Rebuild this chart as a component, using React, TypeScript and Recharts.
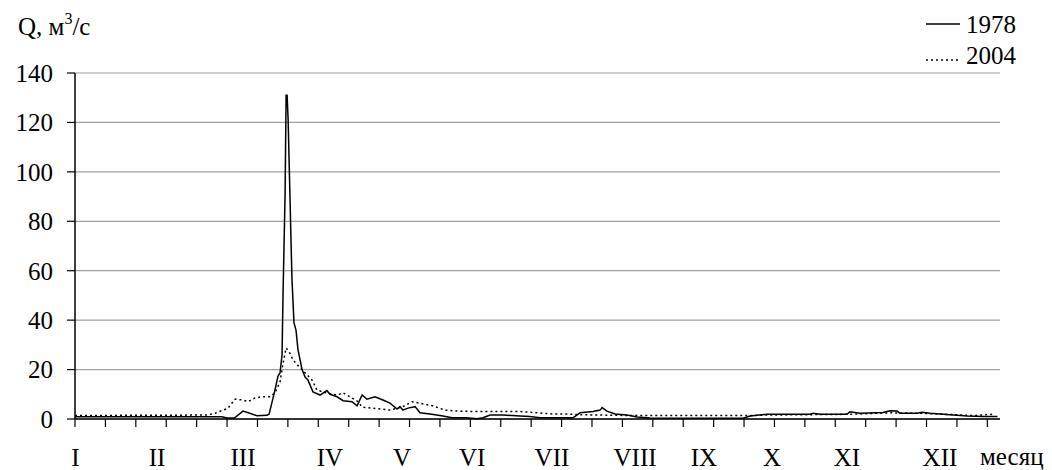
import { LineChart, Line, XAxis, YAxis, CartesianGrid } from 'recharts'

// day of year (0..365) and discharge, m3/s
const days1978 = [0, 30, 58, 60, 63, 66.3, 69, 71.8, 75.8, 76.6, 78.9, 80.1, 80.9, 81.7, 82.1, 82.9, 83.3, 83.7, 84.1, 84.8, 85.6, 86.4, 87.2, 88, 89.6, 90.8, 91.9, 93.9, 96.7, 99.4, 100.6, 103.4, 105.8, 109.3, 111.3, 113.3, 115.2, 118.4, 121.5, 124.3, 127.1, 128.2, 129.4, 131.4, 134.2, 136.1, 140.1, 145.2, 148.8, 154.7, 158.6, 161, 163.8, 168.9, 175.6, 179.5, 183.5, 196.5, 199.3, 204.4, 207.2, 208, 209.9, 213.1, 217.8, 221.8, 226.9, 263.6, 266.4, 273.1, 290, 291.2, 294, 304.6, 305.8, 309.8, 318.8, 321.6, 324.4, 325.5, 332.3, 334.2, 337.4, 345.3, 352, 358.3, 364]
const q1978 = [0.9, 0.9, 0.9, 0.4, 0.5, 3.2, 2.3, 1.3, 1.5, 2, 11.7, 17.4, 18.6, 26, 51, 91, 131, 131, 121, 91, 57, 39, 36, 28, 20, 17, 15.8, 11, 9.7, 11.5, 10, 9, 7.4, 7, 5.3, 9.7, 8, 9, 7.7, 6.4, 4, 5, 3.6, 4.4, 5, 2.5, 2, 1.2, 0.5, 0.5, 0.1, 0.5, 1.6, 1.6, 1.2, 1, 0.5, 0.5, 2.5, 3, 3.6, 4.6, 3.2, 2, 1.6, 0.8, 0.4, 0.3, 1.2, 1.9, 1.9, 2.3, 1.9, 1.9, 2.9, 2.3, 2.6, 3.3, 3.2, 2.3, 2.3, 2.7, 2.3, 1.7, 1.2, 1, 1]

const days2004 = [0, 52, 55.2, 60.4, 63.1, 66.3, 68.3, 71, 73.8, 76.9, 78.9, 80.9, 82.1, 83.3, 84.8, 86, 87.6, 89.6, 93.5, 95.5, 99.4, 103.4, 105.8, 108.5, 111.7, 113.3, 117.6, 124.3, 129.4, 133, 136.1, 141.3, 146, 150.7, 158.6, 175.6, 182.3, 188.6, 194.1, 200.5, 220.2, 266.4, 273, 305.8, 321.6, 334.6, 354.4, 363]
const q2004 = [1.4, 1.6, 2.3, 4.4, 8, 7.7, 7, 8.5, 9, 9, 10.5, 15, 22.6, 28.7, 26.6, 24, 22, 20, 15.8, 11.7, 10.5, 9.7, 10.6, 9, 7, 4.8, 4.4, 3.6, 5, 7, 6.4, 5.3, 3.6, 3.2, 3, 3, 2.5, 2, 2, 1.7, 1.4, 1.4, 1.6, 1.9, 2.5, 2.3, 1.4, 2]

const yTicks = [0, 20, 40, 60, 80, 100, 120, 140]
const dayTicks = Array.from({ length: 31 }, (_, i) => i * 12)
const monthLabels = ['I', 'II', 'III', 'IV', 'V', 'VI', 'VII', 'VIII', 'IX', 'X', 'XI', 'XII']
const monthDays = [0.2, 32.4, 66.3, 100.6, 129, 156.7, 188.2, 221, 248.2, 275, 304.6, 341.3]

// both x axes share the same domain; the 2004 line sits on the month axis so it gets drawn
const series = [
  { name: '1978', days: days1978, q: q1978, dash: undefined as string | undefined, axis: 'd' },
  { name: '2004', days: days2004, q: q2004, dash: '2 3', axis: 'm' },
]

const FONT = 'Liberation Serif, Times New Roman, serif'
const FS = 25

const EmptyTick = () => <g />

function MonthTick(props: any) {
  const { x, y, payload } = props
  const i = monthDays.indexOf(payload.value)
  return (
    <text x={x} y={y + 27} textAnchor="middle" fontFamily={FONT} fontSize={FS} fill="#000">
      {monthLabels[i]}
    </text>
  )
}

export default function App() {
  const rows = series.map(s => s.days.map((d, i) => ({ day: d, q: s.q[i] })))

  return (
    <div style={{ position: 'absolute', left: 0, top: 0, width: 1052, height: 470, background: '#fff' }}>
      <LineChart width={1052} height={470} margin={{ top: 73, right: 52, bottom: 0, left: 0 }}>
        <CartesianGrid vertical={false} stroke="#a0a0a0" strokeWidth={1.2} xAxisId="d" />
        <XAxis
          xAxisId="d"
          dataKey="day"
          type="number"
          domain={[0, 365]}
          ticks={dayTicks}
          height={20}
          tickSize={8}
          tick={EmptyTick}
          interval={0}
          axisLine={{ stroke: '#000', strokeWidth: 1.5 }}
          tickLine={{ stroke: '#000', strokeWidth: 1.2 }}
          allowDataOverflow
        />
        <XAxis
          xAxisId="m"
          dataKey="day"
          type="number"
          domain={[0, 365]}
          ticks={monthDays}
          height={31}
          tickSize={0}
          tickMargin={0}
          axisLine={false}
          tickLine={false}
          tick={MonthTick}
          interval={0}
          allowDataOverflow
        />
        <YAxis
          domain={[0, 140]}
          ticks={yTicks}
          width={75}
          tickSize={8}
          tickMargin={14}
          axisLine={{ stroke: '#000', strokeWidth: 1.5 }}
          tickLine={{ stroke: '#000', strokeWidth: 1.2 }}
          tick={{ fontFamily: FONT, fontSize: FS, fill: '#000' }}
          interval={0}
        />
        {series.map((s, i) => (
          <Line
            key={s.name}
            xAxisId={s.axis}
            data={rows[i]}
            dataKey="q"
            name={s.name}
            type="linear"
            stroke="#000"
            strokeWidth={1.5}
            strokeDasharray={s.dash}
            dot={false}
            activeDot={false}
            isAnimationActive={false}
          />
        ))}
      </LineChart>

      <svg width={1052} height={470} style={{ position: 'absolute', left: 0, top: 0, pointerEvents: 'none' }}>
        <text x={18} y={35} fontFamily={FONT} fontSize={FS} fill="#000">
          Q, м<tspan fontSize={16} dy={-11}>3</tspan><tspan dy={11}>/с</tspan>
        </text>
        {series.map((s, i) => (
          <g key={s.name}>
            <line x1={926} x2={960} y1={i === 0 ? 24 : 60} y2={i === 0 ? 24 : 60} stroke="#000" strokeWidth={1.5} strokeDasharray={s.dash} />
            <text x={966} y={i === 0 ? 33 : 64} fontFamily={FONT} fontSize={FS} fill="#000">{s.name}</text>
          </g>
        ))}
        <text x={980} y={465} fontFamily={FONT} fontSize={FS} fill="#000">месяц</text>
      </svg>
    </div>
  )
}
